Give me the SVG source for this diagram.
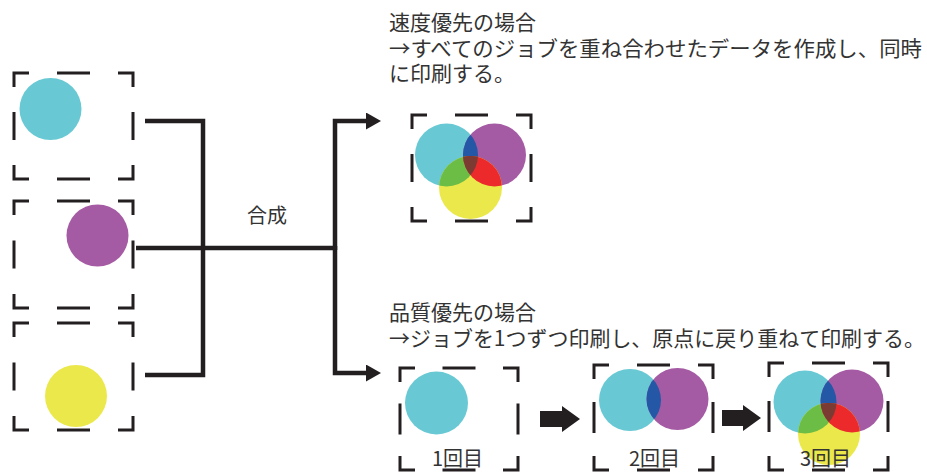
<svg xmlns="http://www.w3.org/2000/svg" width="927" height="474" viewBox="0 0 927 474">
<defs>
<style>
.box{fill:none;stroke:#231F20;stroke-width:3;stroke-linecap:butt;stroke-linejoin:miter}
.wire{fill:none;stroke:#231F20;stroke-width:4.5;stroke-linejoin:miter}
.txt{font-family:"Noto Sans CJK JP","Noto Sans",sans-serif;fill:#333333}
.c{fill:#68C9D4}.p{fill:#A55BA4}.y{fill:#EBE84C}
.b{fill:#2457A6}.g{fill:#6BBD45}.r{fill:#EC2A2B}.k{fill:#7B3B32}
.blk{fill:#231F20}
</style>
<marker id="ah" markerUnits="userSpaceOnUse" markerWidth="16" markerHeight="18" refX="0" refY="8.5" orient="auto">
<path d="M0,0 L15,8.5 L0,17 Z" fill="#231F20"/>
</marker>
<clipPath id="tC"><circle cx="446.5" cy="155" r="31.5"/></clipPath>
<clipPath id="tP"><circle cx="494.5" cy="155" r="31.5"/></clipPath>
<clipPath id="sC"><circle cx="630" cy="400" r="31"/></clipPath>
<clipPath id="uC"><circle cx="805" cy="402" r="31.5"/></clipPath>
<clipPath id="uP"><circle cx="852" cy="401" r="31.5"/></clipPath>
</defs>

<g id="connectors">
<path class="wire" d="M145,121 H203 V375 H145"/>
<path class="wire" d="M136,248 H335"/>
<path class="wire" d="M335,250 V121 H366" marker-end="url(#ah)"/>
<path class="wire" d="M335,246 V373 H366" marker-end="url(#ah)"/>
<polygon class="blk" points="540,411 562,411 562,406 580,419 562,432 562,427 540,427"/>
<polygon class="blk" points="722,410 743,410 743,405 761,418 743,431 743,426 722,426"/>
</g>

<g id="label-gousei">
<text class="txt" x="247" y="223" font-size="20">合成</text>
</g>

<g id="node-src-cyan">
<path class="box" d="M14,87 V73 H29 M118,73 H133 V87 M133,165 V179 H118 M29,179 H14 V165 M57,73 H90 M57,179 H90 M14,112 V140 M133,112 V140"/>
<circle class="c" cx="50.5" cy="109" r="31"/>
</g>

<g id="node-src-purple">
<path class="box" d="M14,215 V201 H29 M118,201 H133 V215 M133,294 V308 H118 M29,308 H14 V294 M57,201 H90 M57,308 H90 M14,240.5 V268.5 M133,240.5 V268.5"/>
<circle class="p" cx="97.5" cy="235.5" r="31"/>
</g>

<g id="node-src-yellow">
<path class="box" d="M14,337 V323 H29 M118,323 H133 V337 M133,416 V430 H118 M29,430 H14 V416 M57,323 H90 M57,430 H90 M14,362.5 V390.5 M133,362.5 V390.5"/>
<circle class="y" cx="76" cy="396" r="31"/>
</g>

<g id="node-speed">
<text class="txt" x="389" y="29.5" font-size="21">速度優先の場合</text>
<text class="txt" x="389" y="55.5" font-size="21" textLength="533" lengthAdjust="spacingAndGlyphs">→すべてのジョブを重ね合わせたデータを作成し、同時</text>
<text class="txt" x="389" y="80.5" font-size="21">に印刷する。</text>
<circle class="c" cx="446.5" cy="155" r="31.5"/>
<circle class="p" cx="494.5" cy="155" r="31.5"/>
<circle class="y" cx="470.5" cy="187.5" r="31.5"/>
<circle class="b" cx="494.5" cy="155" r="31.5" clip-path="url(#tC)"/>
<circle class="g" cx="470.5" cy="187.5" r="31.5" clip-path="url(#tC)"/>
<circle class="r" cx="470.5" cy="187.5" r="31.5" clip-path="url(#tP)"/>
<g clip-path="url(#tC)"><circle class="k" cx="470.5" cy="187.5" r="31.5" clip-path="url(#tP)"/></g>
<path class="box" d="M412,129 V115 H427 M516,115 H531 V129 M531,207 V221 H516 M427,221 H412 V207 M455,115 H488 M455,221 H488 M412,154 V182 M531,154 V182"/>
</g>

<g id="node-quality">
<text class="txt" x="389" y="320" font-size="21">品質優先の場合</text>
<text class="txt" x="389" y="346" font-size="21" textLength="536" lengthAdjust="spacingAndGlyphs">→ジョブを1つずつ印刷し、原点に戻り重ねて印刷する。</text>
</g>

<g id="node-step1">
<circle class="c" cx="436.5" cy="403" r="31.5"/>
<path class="box" d="M400,382 V368 H415 M503,368 H518 V382 M518,456 V470 H503 M415,470 H400 V456 M442.5,368 H475.5 M442.5,470 H475.5 M400,403.5 V434.5 M518,403.5 V434.5"/>
<text class="txt" x="457.5" y="466" font-size="20" text-anchor="middle">1回目</text>
</g>

<g id="node-step2">
<circle class="c" cx="630" cy="400" r="31"/>
<circle class="p" cx="677.5" cy="399" r="31"/>
<circle class="b" cx="677.5" cy="399" r="31" clip-path="url(#sC)"/>
<path class="box" d="M594,379 V365 H609 M698,365 H713 V379 M713,456 V470 H698 M609,470 H594 V456 M637,365 H670 M637,470 H670 M594,402 V433 M713,402 V433"/>
<text class="txt" x="654.5" y="466" font-size="20" text-anchor="middle">2回目</text>
</g>

<g id="node-step3">
<circle class="c" cx="805" cy="402" r="31.5"/>
<circle class="p" cx="852" cy="401" r="31.5"/>
<circle class="y" cx="829" cy="434" r="31"/>
<circle class="b" cx="852" cy="401" r="31.5" clip-path="url(#uC)"/>
<circle class="g" cx="829" cy="434" r="31" clip-path="url(#uC)"/>
<circle class="r" cx="829" cy="434" r="31" clip-path="url(#uP)"/>
<g clip-path="url(#uC)"><circle class="k" cx="829" cy="434" r="31" clip-path="url(#uP)"/></g>
<path class="box" d="M769,377 V363 H784 M873,363 H888 V377 M888,456 V470 H873 M784,470 H769 V456 M812,363 H845 M812,470 H845 M769,401 V432 M888,401 V432"/>
<text class="txt" x="825.5" y="466" font-size="20" text-anchor="middle">3回目</text>
</g>
</svg>
